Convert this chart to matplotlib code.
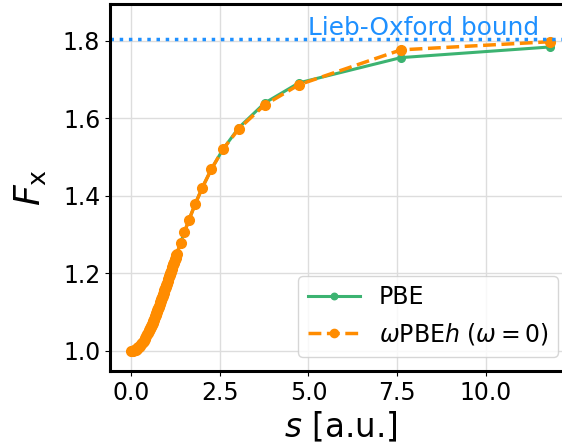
import matplotlib.pyplot as plt

# small-s region, where both functionals coincide
s_low = [0.0, 0.025, 0.05, 0.075, 0.1, 0.125, 0.15, 0.175, 0.2, 0.225,
         0.25, 0.275, 0.3, 0.325, 0.35, 0.375, 0.4, 0.425, 0.45, 0.475,
         0.5, 0.5125, 0.525, 0.5375, 0.55, 0.5625, 0.575, 0.5875,
         0.6, 0.6125, 0.625, 0.6375, 0.65, 0.6625, 0.675, 0.6875,
         0.7, 0.7125, 0.725, 0.7375, 0.75, 0.7625, 0.775, 0.7875,
         0.8, 0.8125, 0.825, 0.8375, 0.85, 0.8625, 0.875, 0.8875,
         0.9, 0.9125, 0.925, 0.9375, 0.95, 0.9625, 0.975, 0.9875,
         1.0, 1.0125, 1.025, 1.0375, 1.05, 1.0625, 1.075, 1.0875,
         1.1, 1.1125, 1.125, 1.1375, 1.15, 1.1625, 1.175, 1.1875,
         1.2, 1.2125, 1.225, 1.2375, 1.25, 1.2625, 1.275, 1.288,
         1.393, 1.497, 1.627, 1.808, 2.006, 2.26]
fx_low = [1.0000, 1.0001, 1.0005, 1.0012, 1.0022, 1.0034, 1.0049, 1.0067, 1.0087, 1.0110,
          1.0135, 1.0163, 1.0193, 1.0225, 1.0260, 1.0297, 1.0337, 1.0378, 1.0421, 1.0467,
          1.0514, 1.0538, 1.0563, 1.0588, 1.0613, 1.0639, 1.0666, 1.0692,
          1.0720, 1.0747, 1.0775, 1.0803, 1.0832, 1.0860, 1.0890, 1.0919,
          1.0949, 1.0979, 1.1009, 1.1040, 1.1070, 1.1101, 1.1133, 1.1164,
          1.1196, 1.1228, 1.1260, 1.1292, 1.1325, 1.1357, 1.1390, 1.1423,
          1.1456, 1.1489, 1.1523, 1.1556, 1.1589, 1.1623, 1.1657, 1.1691,
          1.1724, 1.1758, 1.1792, 1.1826, 1.1860, 1.1894, 1.1928, 1.1962,
          1.1997, 1.2031, 1.2065, 1.2099, 1.2133, 1.2167, 1.2201, 1.2235,
          1.2269, 1.2303, 1.2337, 1.2371, 1.2404, 1.2438, 1.2471, 1.2506,
          1.2784, 1.3052, 1.3373, 1.3792, 1.4209, 1.4682]

# large-s region
s_high = [2.588, 3.04, 3.765, 4.73, 7.61, 11.81]
fx_pbe_high = [1.5198, 1.5758, 1.6389, 1.6909, 1.7560, 1.7834]
fx_wpbeh_high = [1.5197, 1.5729, 1.6340, 1.6860, 1.7760, 1.7970]

lieb_oxford = 1.804

s = s_low + s_high
fx_pbe = fx_low + fx_pbe_high
fx_wpbeh = fx_low + fx_wpbeh_high

fig = plt.figure(figsize=(5.62, 4.48), dpi=100)
ax = fig.add_axes([0.1957, 0.1719, 0.8198, 0.8181])

ax.plot(s, fx_pbe, '-o', color='mediumseagreen', lw=2.2, ms=5.5, label='PBE')
ax.plot(s, fx_wpbeh, '--o', color='darkorange', lw=2.5, ms=7,
        label=r'$\omega$PBE$h$ ($\omega=0$)')
ax.axhline(lieb_oxford, color='dodgerblue', ls=':', lw=2.5)
ax.text(5.0, 1.815, 'Lieb-Oxford bound', color='dodgerblue', fontsize=17.8,
        ha='left', va='baseline')

ax.set_xlim(-0.6, 12.4)
ax.set_ylim(0.948, 1.893)
ax.set_xticks([0.0, 2.5, 5.0, 7.5, 10.0])
ax.set_yticks([1.0, 1.2, 1.4, 1.6, 1.8])
ax.tick_params(labelsize=17)
ax.set_xlabel(r'$s$ [a.u.]', fontsize=23.5)
ax.set_ylabel(r'$F_{\rm x}$', fontsize=26, labelpad=11)
ax.grid(color='#dddddd', lw=1)
ax.set_axisbelow(True)
for sp in ax.spines.values():
    sp.set_linewidth(2.2)

ax.legend(loc='lower right', fontsize=17, handlelength=2.2, markerscale=0.85,
          bbox_to_anchor=(0.998, 0.007))

fig.savefig('out.png', dpi=100)
